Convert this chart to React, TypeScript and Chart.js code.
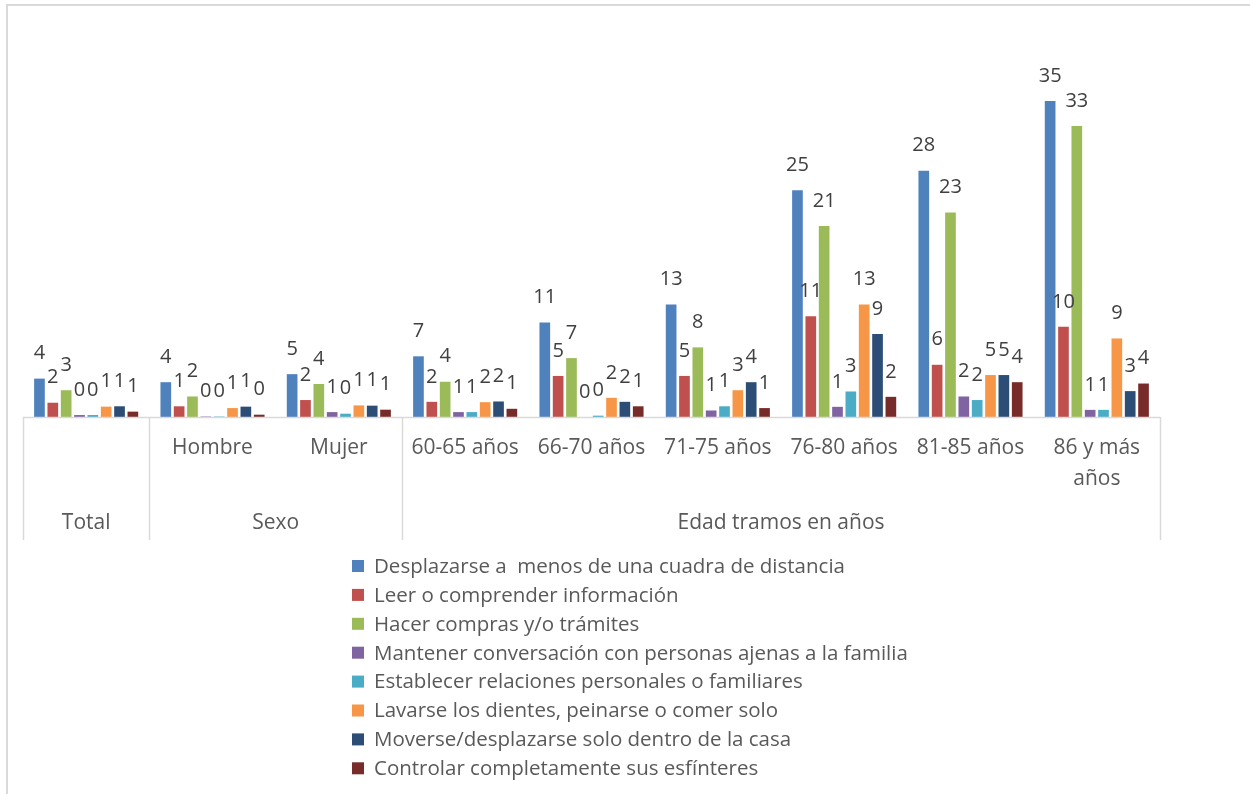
import React, { useEffect, useRef } from "react";
import { Chart, registerables } from "chart.js";

Chart.register(...registerables);

const categories = ["Total", "Hombre", "Mujer", "60-65 años", "66-70 años", "71-75 años", "76-80 años", "81-85 años", "86 y más años"];
const tickLabels: string[][] = [[""], ["Hombre"], ["Mujer"], ["60-65 años"], ["66-70 años"], ["71-75 años"], ["76-80 años"], ["81-85 años"], ["86 y más", "años"]];
const groupLabels = ["Total", "Sexo", "Edad tramos en años"];
const groupSpans = [1, 2, 6];

const seriesNames = [
  "Desplazarse a  menos de una cuadra de distancia",
  "Leer o comprender información",
  "Hacer compras y/o trámites",
  "Mantener conversación con personas ajenas a la familia",
  "Establecer relaciones personales o familiares",
  "Lavarse los dientes, peinarse o comer solo",
  "Moverse/desplazarse solo dentro de la casa",
  "Controlar completamente sus esfínteres",
];
const seriesColors = ["#4F81BD", "#C0504D", "#9BBB59", "#8064A2", "#4BACC6", "#F79646", "#2C4D75", "#772C2A"];

const desplazarse = [4.3, 3.9, 4.8, 6.8, 10.6, 12.6, 25.4, 27.6, 35.4];
const leer = [1.6, 1.2, 1.9, 1.7, 4.6, 4.6, 11.3, 5.85, 10.1];
const compras = [3.0, 2.3, 3.7, 3.95, 6.6, 7.8, 21.4, 22.9, 32.6];
const conversacion = [0.22, 0.05, 0.55, 0.55, 0, 0.73, 1.14, 2.3, 0.8];
const relaciones = [0.22, 0.05, 0.37, 0.55, 0.15, 1.2, 2.86, 1.9, 0.8];
const lavarse = [1.16, 1.0, 1.3, 1.66, 2.15, 3.0, 12.6, 4.7, 8.8];
const moverse = [1.2, 1.16, 1.27, 1.74, 1.7, 3.9, 9.3, 4.7, 2.9];
const esfinteres = [0.6, 0.26, 0.82, 0.92, 1.2, 1.0, 2.26, 3.9, 3.75];

const seriesValues = [desplazarse, leer, compras, conversacion, relaciones, lavarse, moverse, esfinteres];

const FONT = "'Open Sans', 'DejaVu Sans', sans-serif";

const customPlugin = {
  id: "excelLook",
  beforeDraw(chart: any) {
    const ctx = chart.ctx;
    ctx.save();
    ctx.fillStyle = "#ffffff";
    ctx.fillRect(0, 0, chart.width, chart.height);
    ctx.strokeStyle = "#D9D9D9";
    ctx.lineWidth = 2;
    ctx.strokeRect(7, 5, chart.width + 50, chart.height + 50);
    ctx.restore();
  },
  afterDatasetsDraw(chart: any) {
    const ctx = chart.ctx;
    const xs = chart.scales.x;
    const area = chart.chartArea;
    const n = categories.length;
    const half = (xs.getPixelForValue(1) - xs.getPixelForValue(0)) / 2;
    const base = area.bottom;
    const bottomY = 540;
    ctx.save();
    // axis line
    ctx.strokeStyle = "#D9D9D9";
    ctx.lineWidth = 1.5;
    ctx.beginPath();
    ctx.moveTo(xs.getPixelForValue(0) - half, base + 0.5);
    ctx.lineTo(xs.getPixelForValue(n - 1) + half, base + 0.5);
    ctx.stroke();
    // group dividers
    let idx = 0;
    const bounds: number[] = [xs.getPixelForValue(0) - half];
    groupSpans.forEach((s) => {
      idx += s;
      bounds.push(xs.getPixelForValue(idx - 1) + half);
    });
    ctx.beginPath();
    bounds.forEach((b) => {
      const xb = Math.round(b) + 0.5;
      ctx.moveTo(xb, base);
      ctx.lineTo(xb, bottomY);
    });
    ctx.stroke();
    // tick labels
    ctx.fillStyle = "#595959";
    ctx.font = `21px ${FONT}`;
    ctx.textAlign = "center";
    ctx.textBaseline = "middle";
    tickLabels.forEach((lines, i) => {
      const x = xs.getPixelForValue(i);
      lines.forEach((ln, k) => {
        ctx.fillText(ln, x, base + 31 + k * 31);
      });
    });
    // group labels
    groupLabels.forEach((g, gi) => {
      ctx.fillText(g, (bounds[gi] + bounds[gi + 1]) / 2, 523);
    });
    // data labels
    ctx.fillStyle = "#404040";
    ctx.font = `20px ${FONT}`;
    chart.data.datasets.forEach((ds: any, di: number) => {
      const meta = chart.getDatasetMeta(di);
      meta.data.forEach((el: any, i: number) => {
        const v = ds.data[i];
        ctx.fillText(String(Math.round(v)), el.x, el.y - 25);
      });
    });
    // legend
    ctx.font = `20.5px ${FONT}`;
    ctx.textAlign = "left";
    seriesNames.forEach((name, i) => {
      const y = 566 + i * 28.9;
      ctx.fillStyle = seriesColors[i];
      ctx.fillRect(352, y - 6, 12, 12);
      ctx.fillStyle = "#595959";
      ctx.fillText(name, 374, y + 1);
    });
    ctx.restore();
  },
};

export default function App() {
  const ref = useRef<HTMLCanvasElement>(null);
  useEffect(() => {
    if (!ref.current) return;
    const chart = new Chart(ref.current, {
      type: "bar",
      data: {
        labels: categories,
        datasets: seriesNames.map((name, i) => ({
          label: name,
          data: seriesValues[i],
          backgroundColor: seriesColors[i],
          borderWidth: 0,
          categoryPercentage: 0.845,
          barPercentage: 0.8,
        })),
      },
      options: {
        animation: false,
        responsive: false,
        maintainAspectRatio: false,
        layout: { padding: { top: 60, left: 23, right: 90, bottom: 377 } },
        plugins: { legend: { display: false }, tooltip: { enabled: false }, title: { display: false } },
        scales: {
          x: { display: false },
          y: { display: false, min: 0, max: 40 },
        },
      },
      plugins: [customPlugin],
    });
    return () => chart.destroy();
  }, []);
  return (
    <div style={{ position: "fixed", left: 0, top: 0, width: 1250, height: 794, background: "#fff" }}>
      <canvas ref={ref} width={1250} height={794} style={{ width: 1250, height: 794 }} />
    </div>
  );
}
